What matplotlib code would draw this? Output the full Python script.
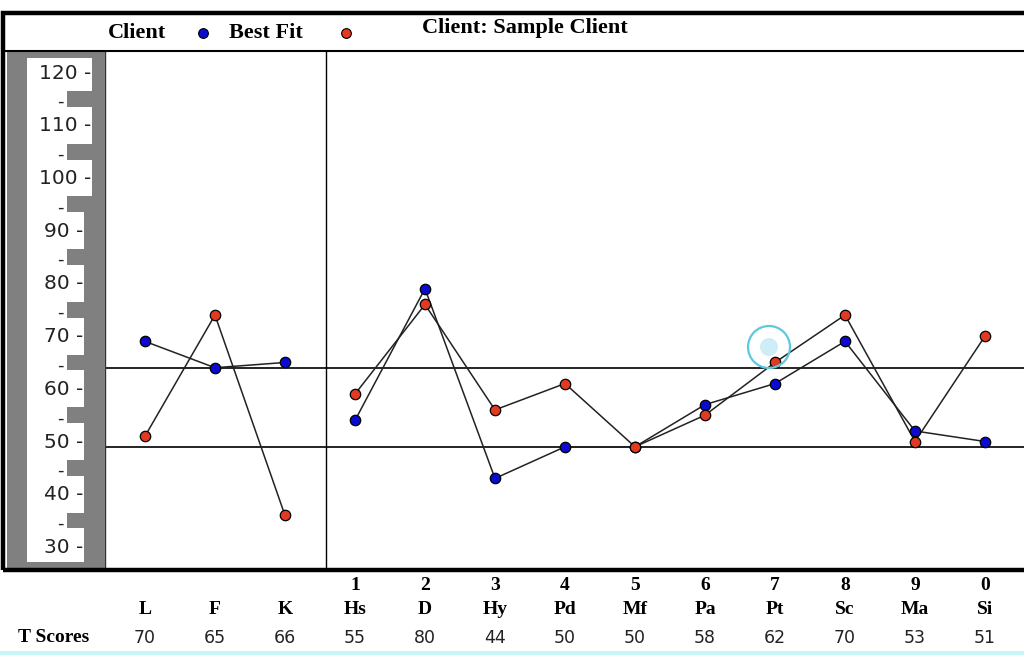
import numpy as np
import matplotlib
matplotlib.use("Agg")
import matplotlib.pyplot as plt
from matplotlib.patches import Rectangle, Circle
from matplotlib.transforms import blended_transform_factory, IdentityTransform

# profile data
scales = ["L", "F", "K", "Hs", "D", "Hy", "Pd", "Mf", "Pa", "Pt", "Sc", "Ma", "Si"]
scale_nums = ["", "", "", "1", "2", "3", "4", "5", "6", "7", "8", "9", "0"]
client = [70, 65, 66, 55, 80, 44, 50, 50, 58, 62, 70, 53, 51]
best_fit = [52, 75, 37, 60, 77, 57, 62, 50, 56, 66, 75, 51, 71]
ref_lines = [65, 50]
ruler_major = [120, 110, 100, 90, 80, 70, 60, 50, 40, 30]
ruler_minor = [115, 105, 95, 85, 75, 65, 55, 45, 35]

W, H = 1024, 655
BLUE = "#0a0ad0"
RED = "#e03a22"
GRAY = "#808080"

def fx(x):
    return x / W

def fy(y):
    return 1 - y / H

def box(x0, y0, x1, y1):
    # pixel box (top-left origin) -> figure fraction rect
    return [fx(x0), fy(y1), fx(x1) - fx(x0), fy(y0) - fy(y1)]

fig = plt.figure(figsize=(W / 100, H / 100), dpi=100)
fig.patch.set_facecolor("white")

ylo, yhi = 27.0, 125.1
xlo, xhi = -0.571, 12.557

# main plot
ax = fig.add_axes(box(105, 51, 1024, 568))
ax.set_xlim(xlo, xhi)
ax.set_ylim(ylo, yhi)
ax.set_xticks([])
ax.set_yticks([])
for s in ["top", "right", "bottom"]:
    ax.spines[s].set_visible(False)
ax.spines["left"].set_color("#333333")
ax.spines["left"].set_linewidth(1.0)

for v in ref_lines:
    ax.axhline(v, color="black", lw=1.2, zorder=1)
ax.axvline(2.59, color="black", lw=1.0, zorder=1)

xs = np.arange(len(scales))
for seg in (slice(0, 3), slice(3, 13)):
    ax.plot(xs[seg], np.array(client)[seg], color="#222222", lw=1.1, zorder=2)
    ax.plot(xs[seg], np.array(best_fit)[seg], color="#222222", lw=1.1, zorder=2)
ax.plot(xs, client, ls="none", marker="o", ms=7.5, mfc=BLUE, mec="black", mew=0.9, zorder=3)
ax.plot(xs, best_fit, ls="none", marker="o", ms=7.5, mfc=RED, mec="black", mew=0.9, zorder=4)

# ruler on the left
rax = fig.add_axes(box(7, 51, 105, 568))
rax.set_xlim(7, 105)
rax.set_ylim(ylo, yhi)
rax.set_facecolor(GRAY)
rax.set_xticks([])
rax.set_yticks([])
for s in rax.spines.values():
    s.set_visible(False)
rax.add_patch(Rectangle((27, 94.5), 92 - 27, 123.8 - 94.5, facecolor="white", edgecolor="none"))
rax.add_patch(Rectangle((27, 28.2), 84 - 27, 94.5 - 28.2, facecolor="white", edgecolor="none"))
for v in ruler_minor:
    right = 92 if v > 94.5 else 84
    rax.add_patch(Rectangle((67, v - 0.5), right - 67, 3.0, facecolor=GRAY, edgecolor="none"))
    rax.text(64, v + 0.4, "-", ha="right", va="center", fontsize=13, color="#222222",
             family="DejaVu Sans")
for v in ruler_major:
    right = 91 if v >= 100 else 83
    rax.text(right, v + 0.9, f"{v} -", ha="right", va="center", fontsize=14.5,
             color="#222222", family="DejaVu Sans")

# outer frame
fig.add_artist(Rectangle((fx(3), fy(570)), fx(1030) - fx(3), fy(13) - fy(570),
                         transform=fig.transFigure, facecolor="none",
                         edgecolor="black", lw=3.2, zorder=10))
fig.add_artist(plt.Line2D([fx(3), fx(1024)], [fy(51), fy(51)], transform=fig.transFigure,
                          color="black", lw=1.5, zorder=10))

# header
hax = fig.add_axes(box(0, 14, 1024, 51))
hax.set_xlim(0, W)
hax.set_ylim(51, 14)
hax.axis("off")
serif = dict(family="Liberation Serif", weight="bold", fontsize=16, color="black")
hax.text(108, 33, "Client", ha="left", va="center", **serif)
hax.plot([203], [33], ls="none", marker="o", ms=7, mfc=BLUE, mec="black", mew=0.8)
hax.text(229, 33, "Best Fit", ha="left", va="center", **serif)
hax.plot([346], [33], ls="none", marker="o", ms=7, mfc=RED, mec="black", mew=0.8)
hax.text(422, 28, "Client: Sample Client", ha="left", va="center", **serif)

# labels under the plot
tr = blended_transform_factory(ax.transData, fig.transFigure)
lab = dict(family="Liberation Serif", weight="bold", fontsize=14, color="black")
for i in range(len(scales)):
    if scale_nums[i]:
        ax.text(xs[i], fy(586), scale_nums[i], ha="center", va="center", transform=tr,
                clip_on=False, **lab)
    ax.text(xs[i], fy(610), scales[i], ha="center", va="center", transform=tr,
            clip_on=False, **lab)
    ax.text(xs[i], fy(638), str(client[i]), ha="center", va="center", transform=tr,
            clip_on=False, fontsize=12.5, color="#222222", family="DejaVu Sans")
fig.text(fx(18), fy(638), "T Scores", ha="left", va="center", **lab)

# screen artifacts: cursor highlight and cyan strip
fig.add_artist(Rectangle((0, 0), 1, fy(651), transform=fig.transFigure,
                         facecolor="#c6f6f8", edgecolor="none", zorder=11))
fig.add_artist(Circle((769, H - 347), 9, transform=IdentityTransform(),
                      facecolor="#cdeef6", edgecolor="none", zorder=12))
fig.add_artist(Circle((769, H - 347), 21, transform=IdentityTransform(),
                      facecolor="none", edgecolor="#5ec9dc", lw=1.6, zorder=12))

fig.savefig("out.png", dpi=100, facecolor="white")
